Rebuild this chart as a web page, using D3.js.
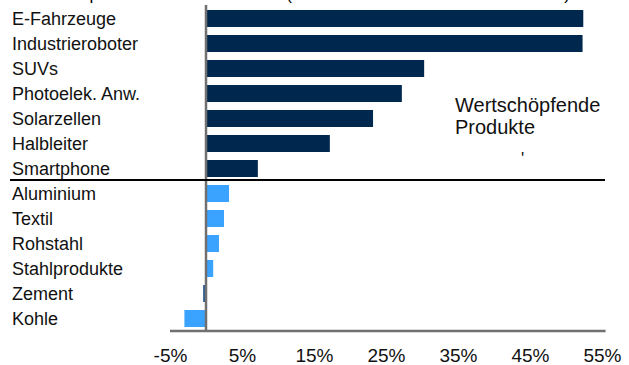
<!DOCTYPE html>
<html><head><meta charset="utf-8">
<script src="https://cdn.jsdelivr.net/npm/d3@7"></script>
<style>body{margin:0;background:#fff}svg{display:block;font-family:"Liberation Sans",Arial,sans-serif}</style>
</head><body><svg id="c" width="629" height="365"></svg>
<script>
const categories = ["E-Fahrzeuge","Industrieroboter","SUVs","Photoelek. Anw.","Solarzellen","Halbleiter","Smartphone","Aluminium","Textil","Rohstahl","Stahlprodukte","Zement","Kohle"];
const values = [52.4, 52.3, 30.3, 27.2, 23.2, 17.2, 7.2, 3.2, 2.5, 1.8, 1.0, -0.4, -3.0];
const groups = ["high","high","high","high","high","high","high","low","low","low","low","neg","low"];
const tickValues = [-5, 5, 15, 25, 35, 45, 55];
const tickLabels = ["-5%","5%","15%","25%","35%","45%","55%"];
const colors = {high:"#00284f", low:"#3aa2ff", neg:"#2d5e92"};

const svg = d3.select("#c");
const x = d3.scaleLinear().domain([-5, 55.5]).range([170, 605.6]);
const y = d3.scaleBand().domain(categories).range([6, 331]).paddingInner(0.32).paddingOuter(0.16);

// title (cut off at the top edge, as in the reference)
svg.append("text").attr("x", 12).attr("y", -0.5).attr("font-size", 17).attr("fill", "#000")
  .text("Chinas Exporte nach Warenklassen (Zuwachs im Verhältnis zum Ausland)");

// bars
svg.append("g").selectAll("rect").data(categories).join("rect")
  .attr("x", (d,i) => x(Math.min(0, values[i])))
  .attr("y", d => y(d))
  .attr("width", (d,i) => Math.abs(x(values[i]) - x(0)))
  .attr("height", y.bandwidth())
  .attr("fill", (d,i) => colors[groups[i]]);

// category labels
svg.append("g").selectAll("text").data(categories).join("text")
  .attr("x", 12).attr("y", d => y(d) + y.bandwidth()/2)
  .attr("dy", "0.36em").attr("font-size", 18).attr("fill", "#111")
  .text(d => d);

// zero line
svg.append("line").attr("x1", x(0)).attr("x2", x(0)).attr("y1", 5).attr("y2", 331)
  .attr("stroke", "#707070").attr("stroke-width", 2.5);

// x axis
const xAxis = d3.axisBottom(x).tickValues(tickValues).tickSize(0).tickPadding(18)
  .tickFormat((d,i) => tickLabels[i]);
const ax = svg.append("g").attr("transform", "translate(0,331)").call(xAxis);
ax.select(".domain").attr("stroke", "#707070").attr("stroke-width", 2.5).attr("d", `M${x.range()[0]},0H${x.range()[1]}`);
ax.selectAll("text").attr("font-size", 19).attr("fill", "#111").attr("font-family", "\"Liberation Sans\",Arial,sans-serif");

// separator between groups
const sepY = y("Smartphone") + y.bandwidth() + 3;
svg.append("line").attr("x1", 10).attr("x2", 605).attr("y1", sepY).attr("y2", sepY)
  .attr("stroke", "#000").attr("stroke-width", 1.8);

// annotation
const ann = svg.append("text").attr("x", 455).attr("y", 112).attr("font-size", 20).attr("fill", "#111");
ann.append("tspan").attr("x", 455).text("Wertschöpfende");
ann.append("tspan").attr("x", 455).attr("dy", 22).text("Produkte");
svg.append("text").attr("x", 521).attr("y", 164).attr("font-size", 17).attr("fill", "#111").text("'");
</script></body></html>
